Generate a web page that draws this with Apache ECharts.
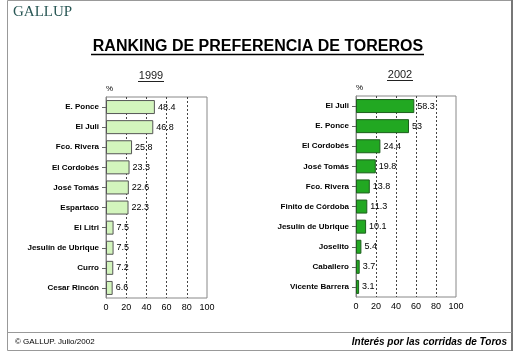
<!DOCTYPE html>
<html>
<head>
<meta charset="utf-8">
<title>Ranking de preferencia de toreros</title>
<script src="https://cdn.jsdelivr.net/npm/echarts@6/dist/echarts.min.js"></script>
<style>
    html, body { margin: 0; padding: 0; background: #fff; }
    #main { width: 515px; height: 352px; }
</style>
</head>
<body>
<div id="main"></div>
<script>
/*datos 1999*/
var toreros1999 = ['E. Ponce', 'El Juli', 'Fco. Rivera', 'El Cordobés', 'José Tomás', 'Espartaco', 'El Litri', 'Jesulín de Ubrique', 'Curro', 'Cesar Rincón'];
var valores1999 = [48.4, 46.8, 25.8, 23.3, 22.6, 22.3, 7.5, 7.5, 7.2, 6.6];
/*datos 2002*/
var toreros2002 = ['El Juli', 'E. Ponce', 'El Cordobés', 'José Tomás', 'Fco. Rivera', 'Finito de Córdoba', 'Jesulín de Ubrique', 'Joselito', 'Caballero', 'Vicente Barrera'];
var valores2002 = [58.3, 53, 24.4, 19.8, 13.8, 11.3, 10.1, 5.4, 3.7, 3.1];
/*eje x*/
var ejeMin = 0, ejeMax = 100, ejeIntervalo = 20;

var fuente = 'Arial, "Liberation Sans", sans-serif';

var ejeX = function (idx) {
    return {
        type: 'value',
        gridIndex: idx,
        min: ejeMin,
        max: ejeMax,
        interval: ejeIntervalo,
        axisLine: { show: false },
        axisTick: { show: false },
        axisLabel: { fontSize: 9, color: '#000', margin: 5, fontFamily: fuente },
        splitLine: {
            show: true,
            showMinLine: false,
            showMaxLine: false,
            lineStyle: { color: '#444', type: [2, 2], width: 1 }
        }
    };
};

var ejeY = function (idx, cats) {
    return {
        type: 'category',
        gridIndex: idx,
        inverse: true,
        data: cats,
        axisLine: { show: true, lineStyle: { color: '#888' } },
        axisTick: { show: true, length: 4, alignWithLabel: true, lineStyle: { color: '#666' } },
        axisLabel: { fontSize: 8, fontWeight: 'bold', color: '#000', margin: 7, fontFamily: fuente }
    };
};

var serie = function (idx, valores, color, borde) {
    return {
        type: 'bar',
        xAxisIndex: idx,
        yAxisIndex: idx,
        data: valores,
        barWidth: 14,
        itemStyle: { color: color, borderColor: borde, borderWidth: 1 },
        label: {
            show: true,
            position: 'right',
            distance: 3,
            fontSize: 9,
            color: '#000',
            fontFamily: fuente
        }
    };
};

var texto = function (x, y, txt, font, align, fill) {
    return {
        type: 'text',
        silent: true,
        style: {
            x: x, y: y, text: txt, font: font,
            textAlign: align, textVerticalAlign: 'middle',
            fill: fill || '#000'
        }
    };
};

var linea = function (x1, y1, x2, y2, color, w) {
    return {
        type: 'line',
        silent: true,
        shape: { x1: x1, y1: y1, x2: x2, y2: y2 },
        style: { stroke: color, lineWidth: w || 1 }
    };
};

var myChart = echarts.init(document.getElementById('main'));

var options = {
    animation: false,
    backgroundColor: '#fff',
    grid: [
        { left: 106, top: 97, width: 101, height: 201, show: true, borderColor: '#888', borderWidth: 1, backgroundColor: '#fff' },
        { left: 356, top: 96, width: 100, height: 201, show: true, borderColor: '#888', borderWidth: 1, backgroundColor: '#fff' }
    ],
    xAxis: [ejeX(0), ejeX(1)],
    yAxis: [ejeY(0, toreros1999), ejeY(1, toreros2002)],
    series: [
        serie(0, valores1999, '#d3f5bd', '#555'),
        serie(1, valores2002, '#22a822', '#1d5e1d')
    ],
    graphic: [
        /*marco*/
        { type: 'rect', silent: true, shape: { x: 7.5, y: 0.5, width: 505, height: 350 }, style: { fill: null, stroke: '#999', lineWidth: 1 } },
        linea(512, 0, 512, 351, '#777', 2),
        linea(7, 332.5, 512, 332.5, '#999', 1),
        /*logo*/
        texto(13, 12, 'GALLUP', '15px "Liberation Serif", "Times New Roman", serif', 'left', '#2a5856'),
        /*titulo*/
        texto(258, 47, 'RANKING DE PREFERENCIA DE TOREROS', 'bold 16px ' + fuente, 'center'),
        linea(91, 54.5, 424, 54.5, '#000', 1.5),
        texto(151, 76, '1999', '11px ' + fuente, 'center', '#222'),
        linea(138, 81.5, 164, 81.5, '#222', 1),
        texto(400, 75, '2002', '11px ' + fuente, 'center', '#222'),
        linea(387, 80.5, 413, 80.5, '#222', 1),
        texto(106, 89, '%', '8px ' + fuente, 'left'),
        texto(356, 88, '%', '8px ' + fuente, 'left'),
        /*pie*/
        texto(15, 342, '© GALLUP. Julio/2002', '8px ' + fuente, 'left'),
        texto(507, 342, 'Interés por las corridas de Toros', 'italic bold 10px ' + fuente, 'right')
    ]
};

myChart.setOption(options);
</script>
</body>
</html>
